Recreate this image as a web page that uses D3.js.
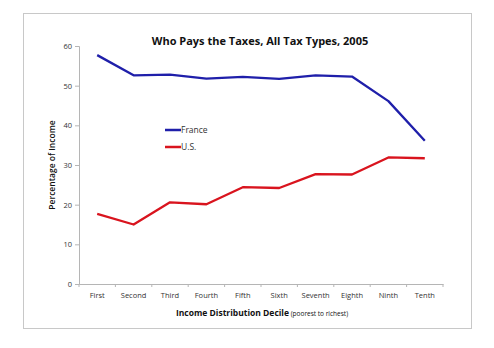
<!DOCTYPE html>
<html><head><meta charset="utf-8">
<script src="https://cdn.jsdelivr.net/npm/d3@7"></script>
<style>body{margin:0;background:#fff}</style>
</head><body>
<script>
const categories = ["First","Second","Third","Fourth","Fifth","Sixth","Seventh","Eighth","Ninth","Tenth"];
const france = [57.7,52.6,52.8,51.8,52.2,51.7,52.6,52.3,46.1,36.1];
const us = [17.7,15.0,20.6,20.1,24.4,24.2,27.7,27.6,31.9,31.7];
const yTicks = [0,10,20,30,40,50,60];
const seriesNames = ["France","U.S."];
const colors = ["#1f1faa","#d9141e"];

const W=494,H=348;
const svg=d3.select("body").append("svg").attr("width",W).attr("height",H);
svg.append("rect").attr("x",23.5).attr("y",13.5).attr("width",448).attr("height",315)
  .attr("fill","#fff").attr("stroke","#c8c8c8").attr("stroke-width",1);

const x=d3.scaleBand().domain(categories).range([79,443]);
const y=d3.scaleLinear().domain([0,60]).range([284,46]);
const font="Open Sans, sans-serif";

const yAxis=svg.append("g").attr("transform","translate(79,0)")
  .call(d3.axisLeft(y).tickValues(yTicks).tickSize(4).tickPadding(3));
const xAxis=svg.append("g").attr("transform","translate(0,284)")
  .call(d3.axisBottom(x).tickSize(0).tickPadding(9));
[yAxis,xAxis].forEach(g=>{
  g.select(".domain").attr("stroke","#b5b5b5");
  g.selectAll(".tick line").attr("stroke","#b5b5b5");
  g.selectAll("text").attr("fill","#333").style("font-family",font).style("font-size","7.5px");
});
xAxis.selectAll(".bt").data(d3.range(categories.length+1)).enter().append("line")
  .attr("x1",i=>79+i*x.step()).attr("x2",i=>79+i*x.step()).attr("y1",0).attr("y2",3)
  .attr("stroke","#b5b5b5");

const line=d3.line().x((d,i)=>x(categories[i])+x.bandwidth()/2).y(d=>y(d));
[france,us].forEach((s,k)=>{
  svg.append("path").datum(s).attr("d",line).attr("fill","none")
    .attr("stroke",colors[k]).attr("stroke-width",2.3).attr("stroke-linejoin","round");
});

seriesNames.forEach((n,k)=>{
  const ly=130+k*17;
  svg.append("line").attr("x1",165).attr("x2",181).attr("y1",ly).attr("y2",ly)
    .attr("stroke",colors[k]).attr("stroke-width",2.5);
  svg.append("text").attr("x",181).attr("y",ly+3).text(n)
    .style("font-family",font).style("font-size","8.5px").attr("fill","#333");
});

svg.append("text").attr("x",260).attr("y",45).attr("text-anchor","middle")
  .text("Who Pays the Taxes, All Tax Types, 2005")
  .style("font-family",font).style("font-size","11px").style("font-weight","bold").attr("fill","#111");

svg.append("text").attr("transform","translate(55,165) rotate(-90)").attr("text-anchor","middle")
  .text("Percentage of Income")
  .style("font-family",font).style("font-size","8.5px").style("font-weight","600").attr("fill","#111");

const xt=svg.append("text").attr("x",262).attr("y",316).attr("text-anchor","middle")
  .style("font-family",font).attr("fill","#111");
xt.append("tspan").text("Income Distribution Decile").style("font-size","8.5px").style("font-weight","bold");
xt.append("tspan").text(" (poorest to richest)").style("font-size","6.5px");
</script>
</body></html>
